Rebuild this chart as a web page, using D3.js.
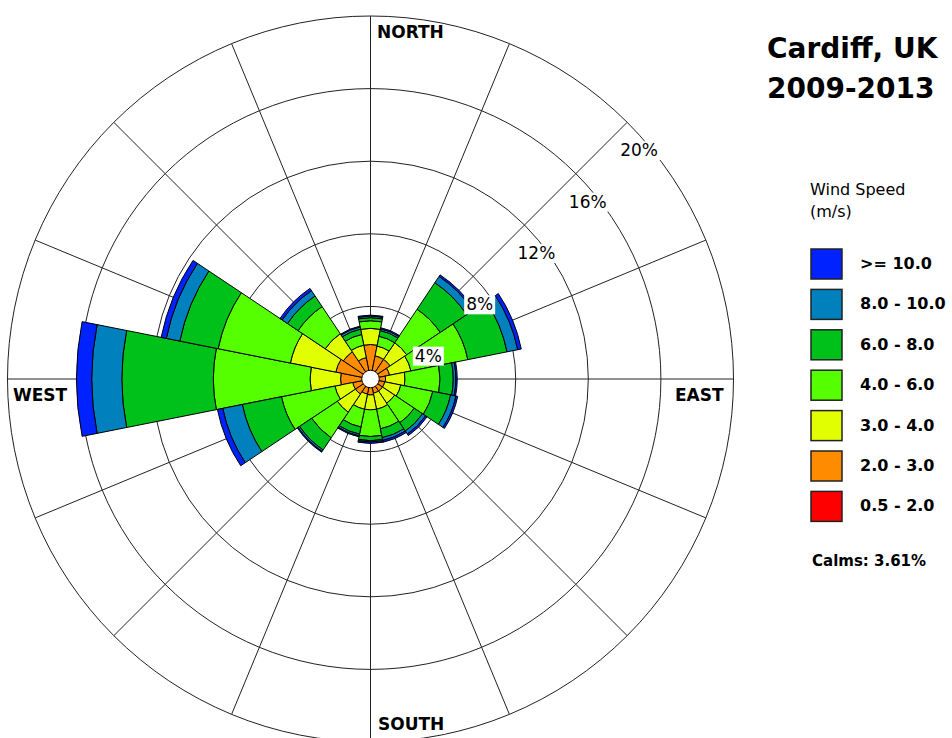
<!DOCTYPE html>
<html>
<head>
<meta charset="utf-8">
<script src="https://cdn.jsdelivr.net/npm/d3@7"></script>
<style>
  body { margin: 0; background: #fff; }
  text { font-family: "DejaVu Sans", Arial, sans-serif; fill: #000; }
</style>
</head>
<body>
<svg id="chart"></svg>
<script>
// wind directions, clockwise from north
const dirs = ["N", "NNE", "NE", "ENE", "E", "ESE", "SE", "SSE", "S", "SSW", "SW", "WSW", "W", "WNW", "NW", "NNW"];
const speedBins = ["0.5 - 2.0", "2.0 - 3.0", "3.0 - 4.0", "4.0 - 6.0", "6.0 - 8.0", "8.0 - 10.0", ">= 10.0"];
const binColors = ["#ff0000", "#ff8c00", "#e1ff00", "#55ff00", "#00c01a", "#0080bd", "#0022ff"];

// frequency (%) per direction for each speed class
const pct05to2 = [0.3, 0.3, 0.3, 0.3, 0.3, 0.3, 0.3, 0.3, 0.3, 0.3, 0.3, 0.3, 0.3, 0.3, 0.3, 0.3];
const pct2to3 = [1.6, 1.0, 1.0, 0.77, 0.53, 0.5, 0.5, 0.5, 0.58, 0.55, 0.7, 0.7, 1.35, 1.65, 1.5, 0.9];
const pct3to4 = [0.89, 0.55, 1.1, 1.2, 1.07, 0.9, 0.8, 0.9, 0.82, 0.85, 1.2, 1.0, 1.68, 2.55, 1.2, 0.7];
const pct4to6 = [0.42, 0.55, 2.22, 3.2, 1.93, 1.8, 1.3, 1.1, 1.47, 1.0, 1.7, 3.0, 5.33, 4.06, 1.8, 0.6];
const pct6to8 = [0.17, 0.32, 1.76, 2.2, 0.73, 1.0, 0.55, 0.5, 0.23, 0.4, 0.8, 2.2, 5.04, 2.15, 0.7, 0.3];
const pct8to10 = [0.09, 0.10, 0.42, 0.6, 0.14, 0.3, 0.2, 0.15, 0.07, 0.1, 0.1, 1.1, 1.66, 0.76, 0.35, 0.12];
const pct10up = [0.05, 0.06, 0.10, 0.2, 0.08, 0.1, 0.1, 0.1, 0.08, 0.05, 0.05, 0.3, 0.84, 0.29, 0.15, 0.05];

const ringTicks = [4, 8, 12, 16, 20];
const calms = 3.61;
const title = ["Cardiff, UK", "2009-2013"];

const width = 952, height = 738;
const cx = 370.5, cy = 379, outerR = 363, calmR = 8.8;

let svg = d3.select("#chart")
  .attr("width", width)
  .attr("height", height);

svg.append("rect")
  .attr("width", width)
  .attr("height", height)
  .attr("fill", "#fff");

let rScale = d3.scaleLinear()
  .domain([0, d3.max(ringTicks)])
  .range([0, outerR]);

let aScale = d3.scaleBand()
  .domain(dirs)
  .range([-Math.PI / 16, 2 * Math.PI - Math.PI / 16])
  .paddingInner(0);

let rows = dirs.map((d, i) => {
  let row = { dir: d };
  let cols = [pct05to2, pct2to3, pct3to4, pct4to6, pct6to8, pct8to10, pct10up];
  speedBins.forEach((b, j) => { row[b] = cols[j][i]; });
  return row;
});

let series = d3.stack().keys(speedBins)(rows);

let g = svg.append("g")
  .attr("transform", `translate(${cx}, ${cy})`);

// grid circles
g.selectAll("circle.ring")
  .data(ringTicks)
  .enter().append("circle")
  .attr("class", "ring")
  .attr("r", d => rScale(d))
  .attr("fill", "none")
  .attr("stroke", "#222")
  .attr("stroke-width", 1);

// radial lines, one per direction
g.selectAll("line.spoke")
  .data(dirs)
  .enter().append("line")
  .attr("class", "spoke")
  .attr("x1", 0)
  .attr("y1", 0)
  .attr("x2", d => outerR * Math.sin(aScale(d) + aScale.bandwidth() / 2))
  .attr("y2", d => -outerR * Math.cos(aScale(d) + aScale.bandwidth() / 2))
  .attr("stroke", "#222")
  .attr("stroke-width", 1);

let arc = d3.arc()
  .innerRadius(d => rScale(d[0]))
  .outerRadius(d => rScale(d[1]))
  .startAngle(d => aScale(d.data.dir))
  .endAngle(d => aScale(d.data.dir) + aScale.bandwidth());

g.selectAll("g.layer")
  .data(series)
  .enter().append("g")
  .attr("class", "layer")
  .attr("fill", (d, i) => binColors[i])
  .selectAll("path")
  .data(d => d)
  .enter().append("path")
  .attr("d", arc)
  .attr("stroke", "#000")
  .attr("stroke-width", 1)
  .attr("stroke-linejoin", "round");

// calm circle in the middle
g.append("circle")
  .attr("r", calmR)
  .attr("fill", "#fff")
  .attr("stroke", "#000")
  .attr("stroke-width", 1);

// ring labels along the NE spoke
let ringLabels = svg.append("g");
ringTicks.forEach(t => {
  let px = cx + rScale(t) * Math.SQRT1_2 - 7;
  let py = cy - rScale(t) * Math.SQRT1_2 + 34;
  let lg = ringLabels.append("g");
  let bg = lg.append("rect").attr("fill", "#fff");
  let txt = lg.append("text")
    .attr("x", px)
    .attr("y", py)
    .style("font-size", "17px")
    .text(t + "%");
  let bb = txt.node().getBBox();
  bg.attr("x", bb.x - 2)
    .attr("y", bb.y + 1)
    .attr("width", bb.width + 4)
    .attr("height", bb.height - 1);
});

// compass labels
let compass = [
  { name: "NORTH", x: 377, y: 38 },
  { name: "WEST", x: 13, y: 401 },
  { name: "EAST", x: 675, y: 401 },
  { name: "SOUTH", x: 378, y: 730 }
];
compass.forEach(c => {
  let lg = svg.append("g");
  let bg = lg.append("rect").attr("fill", "#fff");
  let txt = lg.append("text")
    .attr("x", c.x)
    .attr("y", c.y)
    .style("font-size", "17px")
    .style("font-weight", "bold")
    .text(c.name);
  let bb = txt.node().getBBox();
  bg.attr("x", bb.x - 1).attr("y", bb.y + 2).attr("width", bb.width + 2).attr("height", bb.height - 2);
});

// title
svg.selectAll("text.title")
  .data(title)
  .enter().append("text")
  .attr("class", "title")
  .attr("x", 767)
  .attr("y", (d, i) => 58 + i * 40)
  .style("font-size", "28px")
  .style("font-weight", "bold")
  .text(d => d);

// legend
let legend = svg.append("g");
legend.append("text")
  .attr("x", 810)
  .attr("y", 195)
  .style("font-size", "16px")
  .text("Wind Speed");
legend.append("text")
  .attr("x", 810)
  .attr("y", 217)
  .style("font-size", "16px")
  .text("(m/s)");

let legendOrder = speedBins.slice().reverse();
let legendColors = binColors.slice().reverse();

let item = legend.selectAll("g.item")
  .data(legendOrder)
  .enter().append("g")
  .attr("class", "item")
  .attr("transform", (d, i) => `translate(811, ${249 + i * 40.4})`);

item.append("rect")
  .attr("width", 31)
  .attr("height", 30)
  .attr("fill", (d, i) => legendColors[i])
  .attr("stroke", "#222")
  .attr("stroke-width", 1.5);

item.append("text")
  .attr("x", 49)
  .attr("y", 20)
  .style("font-size", "16px")
  .style("font-weight", "bold")
  .text(d => d);

legend.append("text")
  .attr("x", 812)
  .attr("y", 566)
  .style("font-size", "15px")
  .style("font-weight", "bold")
  .text("Calms: " + calms.toFixed(2) + "%");
</script>
</body>
</html>
